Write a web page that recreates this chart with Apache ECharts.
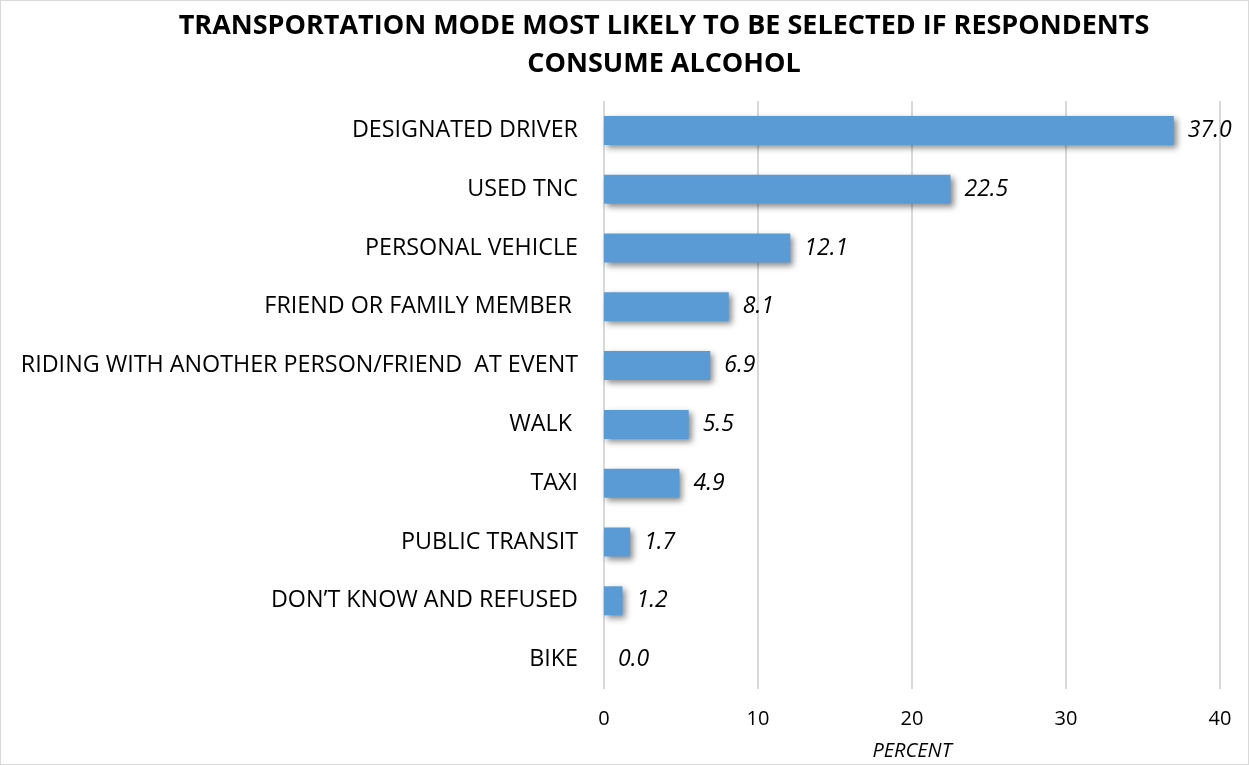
<!DOCTYPE html>
<html>
<head>
<meta charset="utf-8">
<style>
  html, body { margin: 0; padding: 0; background: #ffffff; }
  #chart { width: 1249px; height: 765px; box-sizing: border-box; border: 1px solid #d9d9d9; }
</style>
<script src="https://cdn.jsdelivr.net/npm/echarts@6/dist/echarts.min.js"></script>
</head>
<body>
<div id="chart"></div>
<script>
// Transportation modes, listed top to bottom
const modes = [
  'DESIGNATED DRIVER',
  'USED TNC',
  'PERSONAL VEHICLE',
  'FRIEND OR FAMILY MEMBER ',
  'RIDING WITH ANOTHER PERSON/FRIEND  AT EVENT',
  'WALK ',
  'TAXI',
  'PUBLIC TRANSIT',
  'DON\u2019T KNOW AND REFUSED',
  'BIKE'
];
// Share of respondents (percent)
const percents = [37.0, 22.5, 12.1, 8.1, 6.9, 5.5, 4.9, 1.7, 1.2, 0.0];
const xTicks = [0, 10, 20, 30, 40];

const font = '"Open Sans", "Noto Sans", sans-serif';
const chart = echarts.init(document.getElementById('chart'));

chart.setOption({
  animation: false,
  title: {
    text: 'TRANSPORTATION MODE MOST LIKELY TO BE SELECTED IF RESPONDENTS\nCONSUME ALCOHOL',
    left: 658,
    textAlign: 'center',
    top: 1,
    textStyle: { fontFamily: font, fontWeight: 'bold', fontSize: 27, color: '#000', lineHeight: 38 }
  },
  grid: { left: 603, right: 28, top: 100, bottom: 75, containLabel: false, outerBoundsMode: 'none' },
  xAxis: {
    type: 'value',
    min: xTicks[0],
    max: xTicks[xTicks.length - 1],
    interval: 10,
    name: 'PERCENT',
    nameLocation: 'middle',
    nameGap: 52,
    nameTextStyle: { fontFamily: font, fontStyle: 'italic', fontSize: 20, color: '#000' },
    axisLine: { show: false },
    axisTick: { show: false },
    axisLabel: { fontFamily: font, fontSize: 20, color: '#000', margin: 20 },
    splitLine: { show: true, lineStyle: { color: '#d9d9d9', width: 2 } }
  },
  yAxis: {
    type: 'category',
    data: modes,
    inverse: true,
    axisLine: { show: false },
    axisTick: { show: false },
    axisLabel: { fontFamily: font, fontSize: 23.3, color: '#000', margin: 26 }
  },
  series: [{
    type: 'bar',
    data: percents,
    barWidth: 29,
    itemStyle: {
      color: '#5b9bd5',
      shadowColor: 'rgba(0,0,0,0.45)',
      shadowBlur: 6,
      shadowOffsetX: 3,
      shadowOffsetY: 3
    },
    label: {
      show: true,
      position: 'right',
      distance: 14,
      formatter: p => p.value.toFixed(1),
      fontFamily: font,
      fontStyle: 'italic',
      fontSize: 23,
      color: '#000'
    }
  }]
});
</script>
</body>
</html>
